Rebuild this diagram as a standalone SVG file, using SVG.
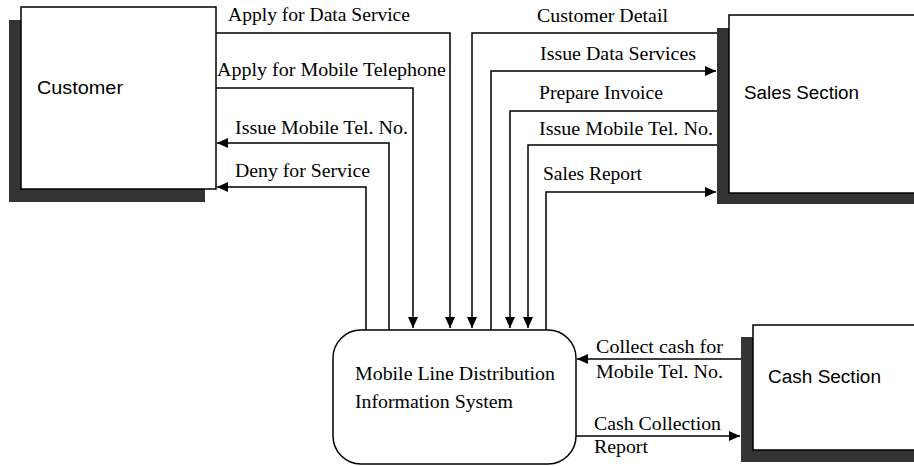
<svg xmlns="http://www.w3.org/2000/svg" width="914" height="466" viewBox="0 0 914 466">
  <style>
    .shadow { fill: #333333; }
    .box { fill: #ffffff; stroke: #000000; stroke-width: 1.5; }
    .flow { fill: none; stroke: #000000; stroke-width: 1.5; }
    .lbl { font-family: "Liberation Serif", "Times New Roman", serif; font-size: 18px; fill: #000000; }
    .ent { font-family: "Liberation Sans", Arial, sans-serif; font-size: 18px; fill: #000000; }
  </style>
  <defs>
    <marker id="arrow" markerUnits="userSpaceOnUse" markerWidth="11" markerHeight="10" viewBox="0 0 11 10" refX="11" refY="5" orient="auto">
      <path d="M0,0 L11,5 L0,10 z" fill="#000000"/>
    </marker>
  </defs>

  <!-- External entities -->
  <g id="customer">
    <rect class="shadow" x="9" y="20" width="196" height="182"/>
    <rect class="box" x="21" y="7" width="195" height="182"/>
    <text class="ent" x="37" y="94" textLength="86" lengthAdjust="spacingAndGlyphs">Customer</text>
  </g>

  <g id="sales-section">
    <rect class="shadow" x="717" y="28" width="210" height="176"/>
    <rect class="box" x="729" y="15" width="200" height="178"/>
    <text class="ent" x="744" y="99" textLength="115" lengthAdjust="spacingAndGlyphs">Sales Section</text>
  </g>

  <g id="cash-section">
    <rect class="shadow" x="741" y="337" width="190" height="125"/>
    <rect class="box" x="753" y="325" width="180" height="125"/>
    <text class="ent" x="768" y="383" textLength="113" lengthAdjust="spacingAndGlyphs">Cash Section</text>
  </g>

  <!-- Process -->
  <g id="mldis">
    <rect class="box" x="333" y="330" width="243" height="134" rx="28" ry="28"/>
    <text class="lbl" x="355" y="380" textLength="200" lengthAdjust="spacingAndGlyphs">Mobile Line Distribution</text>
    <text class="lbl" x="355" y="408" textLength="158" lengthAdjust="spacingAndGlyphs">Information System</text>
  </g>

  <!-- Data flows -->
  <g id="connectors">
    <path class="flow" d="M216,33 H450 V328" marker-end="url(#arrow)"/>
    <path class="flow" d="M216,88 H413 V328" marker-end="url(#arrow)"/>
    <path class="flow" d="M389,330 V143 H217" marker-end="url(#arrow)"/>
    <path class="flow" d="M366,330 V187 H217" marker-end="url(#arrow)"/>
    <path class="flow" d="M717,33 H472 V328" marker-end="url(#arrow)"/>
    <path class="flow" d="M491,330 V71 H716" marker-end="url(#arrow)"/>
    <path class="flow" d="M717,111 H510 V328" marker-end="url(#arrow)"/>
    <path class="flow" d="M717,145 H528 V328" marker-end="url(#arrow)"/>
    <path class="flow" d="M546,330 V192 H716" marker-end="url(#arrow)"/>
    <path class="flow" d="M741,359 H577" marker-end="url(#arrow)"/>
    <path class="flow" d="M576,436 H740" marker-end="url(#arrow)"/>

    <text class="lbl" x="228" y="21" textLength="182" lengthAdjust="spacingAndGlyphs">Apply for Data Service</text>
    <text class="lbl" x="217" y="76" textLength="229" lengthAdjust="spacingAndGlyphs">Apply for Mobile Telephone</text>
    <text class="lbl" x="235" y="134" textLength="173" lengthAdjust="spacingAndGlyphs">Issue Mobile Tel. No.</text>
    <text class="lbl" x="235" y="177" textLength="135" lengthAdjust="spacingAndGlyphs">Deny for Service</text>
    <text class="lbl" x="537" y="22" textLength="131" lengthAdjust="spacingAndGlyphs">Customer Detail</text>
    <text class="lbl" x="540" y="60" textLength="156" lengthAdjust="spacingAndGlyphs">Issue Data Services</text>
    <text class="lbl" x="539" y="99" textLength="124" lengthAdjust="spacingAndGlyphs">Prepare Invoice</text>
    <text class="lbl" x="539" y="135" textLength="174" lengthAdjust="spacingAndGlyphs">Issue Mobile Tel. No.</text>
    <text class="lbl" x="543" y="180" textLength="99" lengthAdjust="spacingAndGlyphs">Sales Report</text>
    <text class="lbl" x="596" y="353" textLength="127" lengthAdjust="spacingAndGlyphs">Collect cash for</text>
    <text class="lbl" x="596" y="378" textLength="127" lengthAdjust="spacingAndGlyphs">Mobile Tel. No.</text>
    <text class="lbl" x="594" y="430" textLength="127" lengthAdjust="spacingAndGlyphs">Cash Collection</text>
    <text class="lbl" x="594" y="453" textLength="54" lengthAdjust="spacingAndGlyphs">Report</text>
  </g>
</svg>
